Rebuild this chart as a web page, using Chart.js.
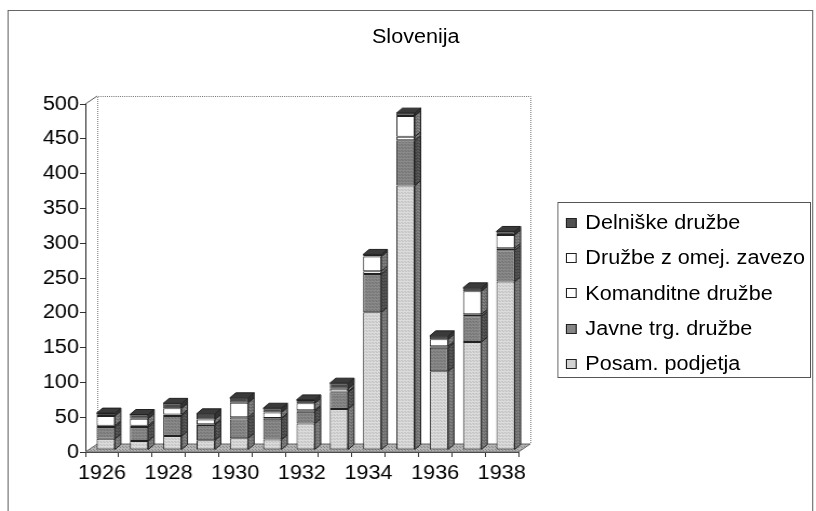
<!DOCTYPE html>
<html>
<head>
<meta charset="utf-8">
<title>Slovenija</title>
<script src="https://cdn.jsdelivr.net/npm/chart.js@4.4.1/dist/chart.umd.min.js"></script>
<style>
  body { margin: 0; background: #fff; overflow: hidden; }
  #wrap { position: absolute; left: 0; top: 0; width: 756px; height: 511px; transform: scaleX(1.08); transform-origin: 0 0; }
  #frame { position: absolute; left: 7px; top: 10px; width: 744px; height: 530px; border: 1px solid #666; }
  #title { position: absolute; left: 285px; top: 25px; width: 200px; text-align: center;
           font: 20px "Liberation Sans", Arial, sans-serif; color: #000; line-height: 22px; }
  #chart { position: absolute; left: 0; top: 0; }
  #legend { position: absolute; left: 516px; top: 202px; width: 235px; height: 176px; border: 1px solid #555;
            font: 20px "Liberation Sans", Arial, sans-serif; color: #000; padding-top: 2px; box-sizing: border-box; }
  .item { height: 35.3px; display: flex; align-items: center; white-space: nowrap; }
  .box { width: 10px; height: 10px; border: 1px solid #222; margin-left: 7px; margin-right: 8px; box-sizing: border-box; flex: none; }
</style>
</head>
<body>
<div id="wrap">
  <div id="frame"></div>
  <div id="title">Slovenija</div>
  <canvas id="chart" width="756" height="511"></canvas>
  <div id="legend"></div>
</div>
<script>
'use strict';

//========== Data ==========
let years = ['1926', '1927', '1928', '1929', '1930', '1931', '1932', '1933', '1934', '1935', '1936', '1937', '1938'];
let posam = [16, 13, 20, 14, 17, 15, 38, 59, 198, 380, 113, 155, 242];
let javne = [17, 20, 29, 22, 27, 30, 17, 24, 55, 65, 34, 37, 45];
let komanditne = [2, 2, 2, 1, 3, 1, 2, 1, 4, 5, 2, 3, 3];
let druzbeZOmej = [14, 10, 9, 7, 21, 8, 10, 4, 21, 30, 10, 33, 19];
let delniske = [4, 6, 7, 8, 7, 6, 5, 8, 3, 4, 5, 5, 5];
let yMin = 0;
let yMax = 500;
let yStep = 50;

//========== Helpers ==========
// little dotted fill like the scanned halftone
function dots(base, dot) {
  let c = document.createElement('canvas');
  c.width = 3;
  c.height = 3;
  let g = c.getContext('2d');
  g.fillStyle = base;
  g.fillRect(0, 0, 3, 3);
  g.fillStyle = dot;
  g.fillRect(0, 0, 1, 1);
  g.fillRect(2, 2, 1, 1);
  return g.createPattern(c, 'repeat');
}

let series = [
  { label: 'Posam. podjetja', data: posam, fill: dots('#dcdcdc', '#b0b0b0'), side: dots('#6c6c6c', '#9a9a9a'), swatch: '#d2d2d2' },
  { label: 'Javne trg. družbe', data: javne, fill: dots('#8a8a8a', '#666'), side: dots('#454545', '#707070'), swatch: '#858585' },
  { label: 'Komanditne družbe', data: komanditne, fill: '#ffffff', side: dots('#6a6a6a', '#a0a0a0'), swatch: '#ffffff' },
  { label: 'Družbe z omej. zavezo', data: druzbeZOmej, fill: '#ffffff', side: dots('#6a6a6a', '#a0a0a0'), swatch: '#ffffff' },
  { label: 'Delniške družbe', data: delniske, fill: '#4a4a4a', side: '#333', swatch: '#505050' }
];

// 3d look: wall, floor, bar sides and tops
let depth = {
  id: 'depth',
  beforeDatasetsDraw(chart) {
    let ctx = chart.ctx;
    let a = chart.chartArea;
    let dx = 11, dy = 8;
    ctx.save();
    // floor
    ctx.beginPath();
    ctx.moveTo(a.left, a.bottom);
    ctx.lineTo(a.right, a.bottom);
    ctx.lineTo(a.right + dx, a.bottom - dy);
    ctx.lineTo(a.left + dx, a.bottom - dy);
    ctx.closePath();
    ctx.fillStyle = dots('#b4b4b4', '#858585');
    ctx.fill();
    ctx.strokeStyle = '#666';
    ctx.lineWidth = 1;
    ctx.stroke();
    // back wall
    ctx.setLineDash([1, 1]);
    ctx.strokeStyle = '#777';
    ctx.beginPath();
    ctx.moveTo(a.left + dx + 0.5, a.bottom - dy);
    ctx.lineTo(a.left + dx + 0.5, a.top - dy + 0.5);
    ctx.lineTo(a.right + dx + 0.5, a.top - dy + 0.5);
    ctx.lineTo(a.right + dx + 0.5, a.bottom - dy);
    ctx.stroke();
    ctx.setLineDash([]);
    ctx.strokeStyle = '#555';
    ctx.beginPath();
    ctx.moveTo(a.left, a.top);
    ctx.lineTo(a.left + dx, a.top - dy);
    ctx.stroke();
    ctx.restore();
    // bars stand a bit behind the front edge
    ctx.save();
    ctx.translate(3.5, -2);
  },
  afterDatasetsDraw(chart) {
    let ctx = chart.ctx;
    let dx = 5.5, dy = 5;
    let n = chart.data.labels.length;
    for (let i = 0; i < n; i++) {
      let topEl = null;
      for (let d = 0; d < chart.data.datasets.length; d++) {
        let el = chart.getDatasetMeta(d).data[i];
        if (!chart.data.datasets[d].data[i]) continue;
        let p = el.getProps(['x', 'y', 'base', 'width'], true);
        let right = p.x + p.width / 2;
        let top = Math.min(p.y, p.base);
        let bottom = Math.max(p.y, p.base);
        ctx.beginPath();
        ctx.moveTo(right, bottom);
        ctx.lineTo(right, top);
        ctx.lineTo(right + dx, top - dy);
        ctx.lineTo(right + dx, bottom - dy);
        ctx.closePath();
        ctx.fillStyle = series[d].side;
        ctx.fill();
        ctx.strokeStyle = '#222';
        ctx.lineWidth = 1;
        ctx.stroke();
        topEl = p;
      }
      if (topEl) {
        let left = topEl.x - topEl.width / 2;
        let right = topEl.x + topEl.width / 2;
        let top = Math.min(topEl.y, topEl.base);
        ctx.beginPath();
        ctx.moveTo(left, top);
        ctx.lineTo(left + dx, top - dy);
        ctx.lineTo(right + dx, top - dy);
        ctx.lineTo(right, top);
        ctx.closePath();
        ctx.fillStyle = '#3a3a3a';
        ctx.fill();
        ctx.strokeStyle = '#222';
        ctx.stroke();
      }
    }
    ctx.restore();
  }
};

//========== Chart ==========
Chart.defaults.font.family = '"Liberation Sans", Arial, sans-serif';
Chart.defaults.font.size = 20;
Chart.defaults.color = '#000';

let ctx = document.getElementById('chart').getContext('2d');
let myChart = new Chart(ctx, {
  type: 'bar',
  data: {
    labels: years,
    datasets: series.map(s => ({
      label: s.label,
      data: s.data,
      backgroundColor: s.fill,
      borderColor: '#222',
      borderWidth: 1,
      borderSkipped: false,
      barPercentage: 0.55,
      categoryPercentage: 1
    }))
  },
  options: {
    responsive: false,
    animation: false,
    devicePixelRatio: 1,
    layout: { padding: { left: 0, top: 104, right: 276, bottom: 19 } },
    plugins: {
      legend: { display: false },
      title: { display: false },
      tooltip: { enabled: false }
    },
    scales: {
      x: {
        stacked: true,
        grid: { drawOnChartArea: false, drawTicks: true, tickLength: 5, color: '#333', offset: true },
        border: { display: true, color: '#333' },
        ticks: {
          autoSkip: false,
          maxRotation: 0,
          padding: 4,
          callback: (v, i) => (i % 2 === 0 ? years[i] : '')
        },
        afterFit: (scale) => { scale.height = 40; }
      },
      y: {
        stacked: true,
        min: yMin,
        max: yMax,
        grid: { drawOnChartArea: false, drawTicks: true, tickLength: 5, color: '#333' },
        border: { display: true, color: '#222' },
        ticks: { stepSize: yStep, padding: 1 },
        afterFit: (scale) => { scale.width = 79; }
      }
    }
  },
  plugins: [depth]
});

//========== Legend ==========
let legend = document.getElementById('legend');
for (let i = series.length - 1; i >= 0; i--) {
  let row = document.createElement('div');
  row.className = 'item';
  let box = document.createElement('span');
  box.className = 'box';
  box.style.background = series[i].swatch;
  let txt = document.createElement('span');
  txt.textContent = series[i].label;
  row.appendChild(box);
  row.appendChild(txt);
  legend.appendChild(row);
}
</script>
</body>
</html>
